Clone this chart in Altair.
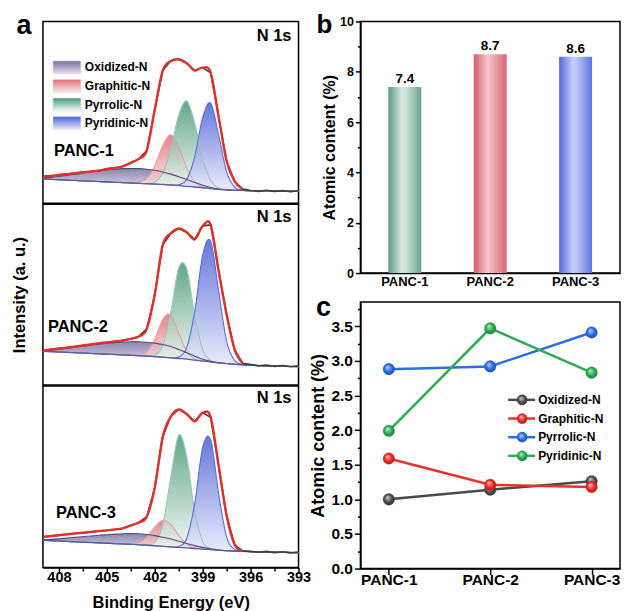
import altair as alt
import pandas as pd

FONT = "Liberation Sans"

# ---------------- panel a : N 1s XPS ----------------
energy = [409, 408.5, 408, 407.5, 407, 406.5, 406, 405.5, 405, 404.5, 404,
          403.5, 403, 402.5, 402, 401.5, 401, 400.5, 400, 399.5, 399, 398.5,
          398, 397.5, 397, 396.5, 396, 395.5, 395, 394.5, 394, 393.5, 393]

species = ["Oxidized-N", "Graphitic-N", "Pyrrolic-N", "Pyridinic-N"]
xps_ticks = [408, 406.5, 405, 403.5, 402, 400.5, 399, 397.5, 396, 394.5, 393]

# PANC-1
panc1_background = [13.3, 13.1, 12.9, 12.7, 12.5, 12.3, 12.1, 11.9, 11.7, 11.5, 11.3,
                    11.1, 10.9, 10.7, 10.5, 10.3, 10.0, 9.7, 9.3, 8.9, 8.5, 8.0,
                    7.6, 7.3, 7.1, 7.0, 6.9, 6.85, 6.8, 6.75, 6.7, 6.65, 6.6]
panc1_oxidized = [0.6, 1.1, 1.8, 2.6, 3.4, 4.3, 5.1, 5.9, 6.6, 7.2, 7.7, 8.0, 8.1,
                  8.0, 7.6, 6.9, 6.0, 4.9, 3.7, 2.5, 1.4, 0.6, 0.2,
                  0, 0, 0, 0, 0, 0, 0, 0, 0, 0]
panc1_graphitic = [0, 0, 0, 0, 0, 0, 0, 0, 0, 0,
                   0.1, 0.3, 0.8, 2.8, 10.0, 21.5, 27.7, 21.5, 10.0, 2.8, 0.5, 0.1,
                   0, 0, 0, 0, 0, 0, 0, 0, 0, 0, 0]
panc1_pyrrolic = [0, 0, 0, 0, 0, 0, 0, 0, 0, 0, 0, 0, 0,
                  0.15, 1.2, 6.2, 19.7, 38.7, 46.9, 35.1, 16.2, 4.6, 0.8, 0.1,
                  0, 0, 0, 0, 0, 0, 0, 0, 0]
panc1_pyridinic = [0, 0, 0, 0, 0, 0, 0, 0, 0, 0, 0, 0, 0, 0, 0, 0, 0,
                   0.4, 3.7, 16.6, 38.7, 47.0, 29.8, 9.9, 1.7, 0.15,
                   0, 0, 0, 0, 0, 0, 0]
panc1_measured = [14.6, 15.0, 15.5, 16.0, 16.5, 17.0, 17.4, 17.9, 18.8, 19.4, 20.3,
                  22.2, 24.4, 29.0, 51.5, 73.0, 78.2, 79.2, 77.0, 73.0, 74.6, 71.8,
                  47.5, 23.0, 12.0, 7.8, 7.0, 6.5, 7.1, 6.4, 6.9, 6.3, 6.8]

# PANC-2
panc2_background = [18.6, 18.4, 18.2, 18.0, 17.8, 17.6, 17.4, 17.2, 17.0, 16.8, 16.6,
                    16.4, 16.2, 15.9, 15.6, 15.3, 15.0, 14.6, 14.2, 13.7, 13.2, 12.7,
                    12.2, 11.8, 11.4, 11.1, 10.9, 10.7, 10.5, 10.4, 10.3, 10.2, 10.1]
panc2_oxidized = [0.3, 0.8, 1.5, 2.2, 3.0, 3.8, 4.6, 5.3, 6.0, 6.6, 7.1, 7.5, 7.7,
                  7.7, 7.5, 7.0, 6.2, 5.0, 3.6, 2.2, 1.0, 0.3,
                  0, 0, 0, 0, 0, 0, 0, 0, 0, 0, 0]
panc2_graphitic = [0, 0, 0, 0, 0, 0, 0, 0, 0, 0, 0,
                   0.2, 0.6, 2.3, 9.6, 20.9, 23.8, 14.1, 4.4, 0.7, 0.1,
                   0, 0, 0, 0, 0, 0, 0, 0, 0, 0, 0, 0]
panc2_pyrrolic = [0, 0, 0, 0, 0, 0, 0, 0, 0, 0, 0, 0, 0, 0,
                  0.8, 6.2, 25.0, 50.1, 50.1, 25.0, 6.2, 0.8, 0.05,
                  0, 0, 0, 0, 0, 0, 0, 0, 0, 0]
panc2_pyridinic = [0, 0, 0, 0, 0, 0, 0, 0, 0, 0, 0, 0, 0, 0, 0, 0, 0,
                   0.8, 6.4, 26.8, 58.6, 66.7, 39.7, 12.3, 2.0, 0.17,
                   0, 0, 0, 0, 0, 0, 0]
panc2_measured = [19.1, 19.6, 20.1, 20.6, 21.2, 21.8, 22.4, 23.0, 23.5, 24.0, 24.6,
                  25.5, 26.8, 31.0, 50.0, 77.5, 83.8, 86.5, 84.5, 80.5, 88.0, 88.5,
                  63.0, 38.8, 19.5, 12.0, 11.3, 10.5, 11.0, 10.2, 10.7, 10.0, 10.5]

# PANC-3
panc3_background = [15.0, 14.8, 14.6, 14.4, 14.2, 14.0, 13.8, 13.6, 13.4, 13.2, 13.0,
                    12.8, 12.6, 12.3, 12.0, 11.7, 11.4, 11.1, 10.8, 10.5, 10.2, 9.9,
                    9.6, 9.3, 9.1, 8.9, 8.8, 8.7, 8.6, 8.5, 8.4, 8.3, 8.2]
panc3_oxidized = [0.3, 0.7, 1.2, 1.8, 2.4, 3.0, 3.6, 4.2, 4.7, 5.2, 5.6, 5.9, 6.0,
                  5.9, 5.6, 5.0, 4.3, 3.4, 2.5, 1.6, 0.9, 0.4, 0.1,
                  0, 0, 0, 0, 0, 0, 0, 0, 0, 0]
panc3_graphitic = [0, 0, 0, 0, 0, 0, 0, 0, 0, 0,
                   0.1, 0.4, 1.2, 4.5, 10.2, 14.3, 12.3, 6.6, 2.2, 0.4, 0.05,
                   0, 0, 0, 0, 0, 0, 0, 0, 0, 0, 0, 0]
panc3_pyrrolic = [0, 0, 0, 0, 0, 0, 0, 0, 0, 0, 0, 0, 0,
                  0.14, 1.8, 11.7, 38.1, 61.8, 50.2, 20.4, 4.1, 0.4, 0.03,
                  0, 0, 0, 0, 0, 0, 0, 0, 0, 0]
panc3_pyridinic = [0, 0, 0, 0, 0, 0, 0, 0, 0, 0, 0, 0, 0, 0, 0, 0, 0,
                   0.5, 5.2, 24.7, 56.0, 60.3, 30.9, 7.5, 0.9, 0.05,
                   0, 0, 0, 0, 0, 0, 0]
panc3_measured = [16.9, 17.3, 17.8, 18.3, 18.8, 19.2, 19.6, 20.1, 20.5, 21.0, 21.6,
                  23.2, 24.8, 28.0, 44.0, 72.0, 83.0, 87.0, 84.5, 80.5, 85.2, 82.7,
                  56.0, 28.5, 12.5, 9.2, 8.9, 8.4, 8.9, 8.2, 8.7, 8.1, 8.5]

# ---------------- panel b : total N ----------------
samples = ["PANC-1", "PANC-2", "PANC-3"]
total_n = [7.4, 8.7, 8.6]

# ---------------- panel c : N species ----------------
oxidized_n = [1.00, 1.14, 1.26]
graphitic_n = [1.59, 1.21, 1.18]
pyrrolic_n = [2.88, 2.92, 3.41]
pyridinic_n = [1.99, 3.47, 2.83]

# ---------------- styles ----------------
comp_keys = ["ox", "gr", "pr", "pd"]
comp_style = {
    "ox": ("#76729e", "#eadcf1", "#4a4d7c"),
    "gr": ("#de7077", "#fce8e8", "#e6a0a3"),
    "pr": ("#479874", "#f3f8f5", "#98c9b5"),
    "pd": ("#4a5fd3", "#e7eafb", "#5b6ddb"),
}


def vgrad(top, bottom):
    return alt.LinearGradient(gradient="linear",
                              stops=[alt.GradientStop(color=top, offset=0),
                                     alt.GradientStop(color=bottom, offset=1)],
                              x1=0, x2=0, y1=0, y2=1)


def hgrad(stops):
    return alt.LinearGradient(gradient="linear",
                              stops=[alt.GradientStop(color=c, offset=o) for o, c in stops],
                              x1=0, x2=1, y1=0, y2=0)


def sphere(light, mid, dark):
    return alt.RadialGradient(gradient="radial",
                              stops=[alt.GradientStop(color=light, offset=0),
                                     alt.GradientStop(color=mid, offset=0.55),
                                     alt.GradientStop(color=dark, offset=1)],
                              x1=0.38, y1=0.32, r1=0, x2=0.5, y2=0.5, r2=0.55)


one = pd.DataFrame({"k": [0]})


def text_layer(text, x, y, size, align="left", baseline="alphabetic"):
    return alt.Chart(one).mark_text(text=text, fontSize=size, fontWeight="bold",
                                    align=align, baseline=baseline, font=FONT,
                                    color="black").encode(x=alt.value(x), y=alt.value(y))


def ghost(x, y, y2):
    # invisible spacer that fixes the layout extent of a panel
    return alt.Chart(one).mark_rule(opacity=0, strokeWidth=1).encode(
        x=alt.value(x), y=alt.value(y), y2=alt.value(y2))


def xps_panel(sample, bg, comps, measured, height, bottom=False, middle=False,
              legend=False, sample_xy=(11, 135), n1s_y=20, letter=False):
    data = {"E": energy, "bg": bg, "meas": measured}
    for key, vals in zip(comp_keys, comps):
        data[key] = [b + v for b, v in zip(bg, vals)]
    df = pd.DataFrame(data)

    xs = alt.Scale(domain=[393, 409], reverse=True, nice=False, zero=False)
    if bottom:
        xa = alt.Axis(title="Binding Energy (eV)", values=xps_ticks,
                      labelExpr="datum.value % 3 == 0 ? datum.label : ''",
                      tickSize={"condition": {"test": "datum.value % 3 == 0", "value": 5.5},
                                "value": 3.5},
                      labelFontSize=14.5, titleFontSize=16.5, labelPadding=-3,
                      titlePadding=11, labelFlush=False, labelOverlap=False)
        X = alt.X("E:Q", scale=xs, axis=xa)
    else:
        X = alt.X("E:Q", scale=xs, axis=None)
    ys = alt.Scale(domain=[0, 100], nice=False, zero=False)
    ya = alt.Axis(title="Intensity (a. u.)", labels=False, ticks=False, domain=False,
                  titleFontSize=16.5, titlePadding=15, titleOpacity=1 if middle else 0)

    def Y(f):
        return alt.Y(f + ":Q", scale=ys, axis=ya)

    base = alt.Chart(df)
    layers = []
    for key in comp_keys:
        top, bot, edge = comp_style[key]
        layers.append(base.mark_area(fill=vgrad(top, bot), fillOpacity=0.85,
                                     interpolate="cardinal")
                      .encode(x=X, y=Y(key), y2="bg:Q"))
    for key in ["gr", "pr", "pd", "ox"]:
        layers.append(base.mark_line(color=comp_style[key][2], strokeWidth=1.1,
                                     interpolate="cardinal")
                      .encode(x=X, y=Y(key)))
    layers.append(base.mark_line(color="#5a5e98", strokeWidth=1.3, interpolate="cardinal")
                  .encode(x=X, y=Y("bg")))
    layers.append(base.mark_line(color="#3c3c3c", strokeWidth=1.6)
                  .encode(x=X, y=Y("meas")))
    layers.append(base.transform_filter("datum.E >= 396.5")
                  .mark_line(color="#e2302b", strokeWidth=2.4, interpolate="cardinal")
                  .encode(x=X, y=Y("meas")))

    layers.append(text_layer(sample, sample_xy[0], sample_xy[1], 16.5))
    layers.append(text_layer("N 1s", 249, n1s_y, 16.5, align="right"))
    if letter:
        layers.append(text_layer("a", -19, 13, 27, align="center"))
        layers.append(ghost(-33.5, -45, -44))
    if bottom:
        layers.append(ghost(272, 100, 101))
    if legend:
        for i, (key, name) in enumerate(zip(comp_keys, species)):
            top, bot, edge = comp_style[key]
            yc = 46 + i * 18.6
            layers.append(alt.Chart(one).mark_rect(fill=vgrad(top, bot), stroke="#dddde8",
                                                   strokeWidth=0.6)
                          .encode(x=alt.value(10), x2=alt.value(38),
                                  y=alt.value(yc - 6.5), y2=alt.value(yc + 6.5)))
            layers.append(text_layer(name, 42, yc, 12, baseline="middle"))
    return alt.layer(*layers).properties(width=256, height=height)


p1 = xps_panel("PANC-1", panc1_background,
               [panc1_oxidized, panc1_graphitic, panc1_pyrrolic, panc1_pyridinic],
               panc1_measured, 182, legend=True, sample_xy=(11, 135), n1s_y=20, letter=True)
p2 = xps_panel("PANC-2", panc2_background,
               [panc2_oxidized, panc2_graphitic, panc2_pyrrolic, panc2_pyridinic],
               panc2_measured, 181, middle=True, sample_xy=(5, 128), n1s_y=18)
p3 = xps_panel("PANC-3", panc3_background,
               [panc3_oxidized, panc3_graphitic, panc3_pyrrolic, panc3_pyridinic],
               panc3_measured, 182, bottom=True, sample_xy=(13, 132), n1s_y=17)

# ---------------- panel b ----------------
bar_df = pd.DataFrame({"sample": samples, "total": total_n})
bar_grads = [
    hgrad([(0, "#5b9a82"), (0.4, "#d2e7de"), (0.55, "#c7e0d6"), (1, "#66a38b")]),
    hgrad([(0, "#d95b67"), (0.42, "#f7c9cd"), (0.55, "#f0b3b9"), (1, "#dc6571")]),
    hgrad([(0, "#5266db"), (0.42, "#c8cff6"), (0.55, "#b8c2f2"), (1, "#5d71df")]),
]
xb = alt.X("sample:N", scale=alt.Scale(domain=samples, paddingInner=0.614, paddingOuter=0.327),
           axis=alt.Axis(title=None, labelAngle=0, ticks=False, labelFontSize=13,
                         labelPadding=2))
yb = alt.Y("total:Q", scale=alt.Scale(domain=[0, 10], nice=False),
           axis=alt.Axis(title="Atomic content (%)", values=list(range(11)),
                         labelExpr="datum.value % 2 == 0 ? datum.label : ''",
                         tickSize={"condition": {"test": "datum.value % 2 == 0", "value": 5},
                                   "value": 3},
                         labelFontSize=12.5, titleFontSize=16, labelPadding=2,
                         titlePadding=2, labelOverlap=False))
b_layers = []
for s, g in zip(samples, bar_grads):
    b_layers.append(alt.Chart(bar_df).transform_filter(alt.datum.sample == s)
                    .mark_bar(fill=g).encode(x=xb, y=yb))
b_layers.append(alt.Chart(bar_df).mark_text(dy=-8, fontSize=13.5, fontWeight="bold",
                                            font=FONT, color="black")
                .encode(x=xb, y=yb, text=alt.Text("total:Q", format=".1f")))
b_layers.append(text_layer("b", -36, 12, 26, align="center"))
b_layers.append(ghost(-20, -45, -44))
b_layers.append(ghost(-20, 279, 280))
pb = alt.layer(*b_layers).properties(width=260, height=252)

# ---------------- panel c ----------------
series_vals = [oxidized_n, graphitic_n, pyrrolic_n, pyridinic_n]
series_colors = ["#4a4a4a", "#e8302c", "#2c6fe0", "#2faa55"]
series_spheres = [sphere("#d4d4d4", "#565656", "#262626"),
                  sphere("#ffbdb9", "#e8302c", "#a3151a"),
                  sphere("#c0d7ff", "#2f70e2", "#16449a"),
                  sphere("#bff2cd", "#30b05a", "#167136")]
rows = []
for name, vals in zip(species, series_vals):
    for s, v in zip(samples, vals):
        rows.append({"sample": s, "series": name, "value": v})
c_df = pd.DataFrame(rows)

c_ticks = [0, 0.25, 0.5, 0.75, 1.0, 1.25, 1.5, 1.75, 2.0, 2.25, 2.5, 2.75, 3.0, 3.25, 3.5, 3.75]
major_test = "abs(datum.value * 2 - round(datum.value * 2)) < 0.01"
xc = alt.X("sample:N", scale=alt.Scale(type="point", domain=samples, padding=0.28),
           axis=alt.Axis(title=None, labelAngle=0, labelFontSize=15.5, tickSize=6,
                         labelPadding=-2))
yc = alt.Y("value:Q", scale=alt.Scale(domain=[0, 3.85], nice=False),
           axis=alt.Axis(title="Atomic content (%)", values=c_ticks,
                         labelExpr="(" + major_test + ") ? format(datum.value, '.1f') : ''",
                         tickSize={"condition": {"test": major_test, "value": 6}, "value": 3},
                         labelFontSize=15.5, titleFontSize=18, labelPadding=2,
                         titlePadding=3, labelOverlap=False))
c_layers = [alt.Chart(c_df).mark_line(strokeWidth=2.5)
            .encode(x=xc, y=yc, color=alt.Color("series:N",
                                                scale=alt.Scale(domain=species, range=series_colors),
                                                legend=None))]
for name, sp, col in zip(species, series_spheres, series_colors):
    c_layers.append(alt.Chart(c_df).transform_filter(alt.datum.series == name)
                    .mark_point(shape="circle", filled=True, fill=sp, size=135, opacity=1,
                                stroke=col, strokeWidth=0.4)
                    .encode(x=xc, y=yc))
for i, (name, sp, col) in enumerate(zip(species, series_spheres, series_colors)):
    ly = 98 + i * 18.7
    c_layers.append(alt.Chart(one).mark_rule(color=col, strokeWidth=2.5)
                    .encode(x=alt.value(148), x2=alt.value(175), y=alt.value(ly)))
    c_layers.append(alt.Chart(one).mark_point(shape="circle", filled=True, fill=sp, size=105,
                                              opacity=1, stroke=col, strokeWidth=0.4)
                    .encode(x=alt.value(162), y=alt.value(ly)))
    c_layers.append(text_layer(name, 178, ly, 12, baseline="middle"))
c_layers.append(text_layer("c", -37, 14, 27, align="center"))
c_layers.append(ghost(-62, -45, -44))
pc = alt.layer(*c_layers).properties(width=260, height=267)

left = alt.vconcat(p1, p2, p3, spacing=-1.5)
right = alt.vconcat(pb, pc, spacing=-46)
chart = (alt.hconcat(left, right, spacing=-18)
         .properties(padding={"left": 0, "top": -33, "right": 0, "bottom": 0})
         .configure(font=FONT)
         .configure_view(stroke="black", strokeWidth=1.5)
         .configure_axis(grid=False, domainColor="black", tickColor="black",
                         labelColor="black", titleColor="black", labelFontWeight="bold",
                         titleFontWeight="bold", labelFont=FONT, titleFont=FONT,
                         domainWidth=1.5, tickWidth=1.5))

chart.save("out.html", embed_options={"renderer": "svg", "actions": False})
